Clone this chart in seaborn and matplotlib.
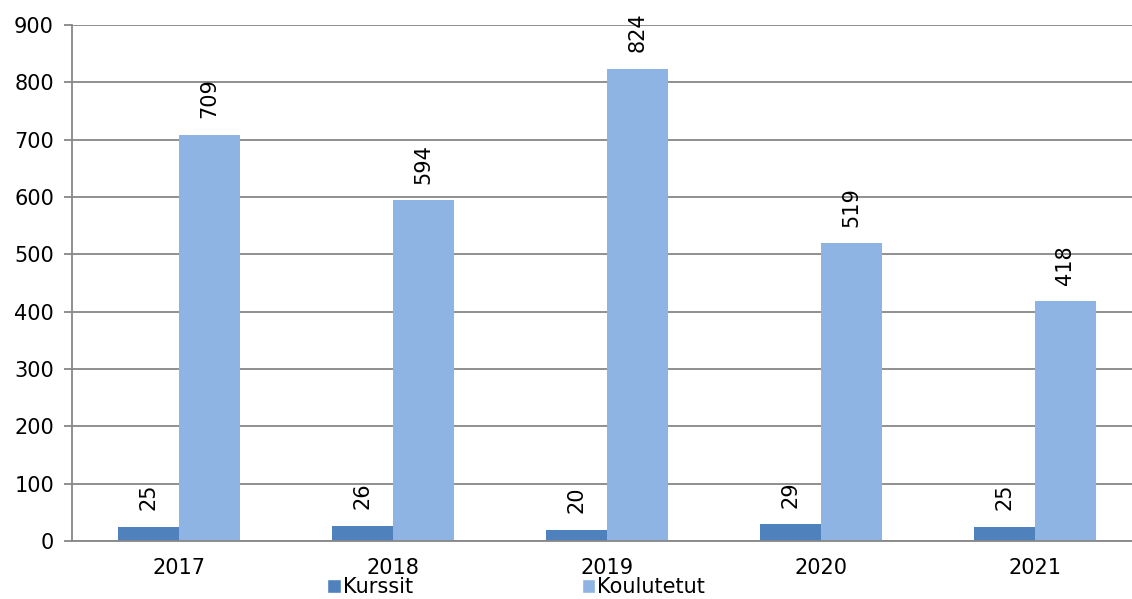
import numpy as np
import pandas as pd
import matplotlib
matplotlib.use("Agg")
import matplotlib.pyplot as plt
import seaborn as sns
from matplotlib.patches import Patch

years = ["2017", "2018", "2019", "2020", "2021"]
kurssit = [25, 26, 20, 29, 25]
koulutetut = [709, 594, 824, 519, 418]
series = ["Kurssit", "Koulutetut"]
colors = ["#4F81BD", "#8EB4E3"]

df = pd.DataFrame({
    "vuosi": years * 2,
    "arvo": kurssit + koulutetut,
    "sarja": [series[0]] * len(years) + [series[1]] * len(years),
})

sns.set_style("white")
plt.rcParams["font.family"] = ["DejaVu Sans"]
plt.rcParams["text.color"] = "black"
plt.rcParams["xtick.labelcolor"] = "black"
plt.rcParams["ytick.labelcolor"] = "black"
grey = "#878787"
fs = 15

fig = plt.figure(figsize=(11.32, 5.99), dpi=100)
ax = fig.add_axes([72 / 1132, 58 / 599, 1070 / 1132, 516 / 599])

sns.barplot(data=df, x="vuosi", y="arvo", hue="sarja", palette=colors,
            width=0.57, gap=0, saturation=1, linewidth=0, legend=False, ax=ax)

# arvot pystyyn palkkien yläpuolelle
for c in ax.containers:
    ax.bar_label(c, rotation=90, padding=12, fontsize=fs, color="black")

ax.set_ylim(0, 900)
ax.set_yticks(np.arange(0, 901, 100))
ax.set_xlim(-0.5, len(years) - 0.5)
ax.set_xlabel("")
ax.set_ylabel("")
ax.grid(axis="y", color=grey, linewidth=1.3)
ax.set_axisbelow(True)

for s in ["top", "right"]:
    ax.spines[s].set_visible(False)
for s in ["left", "bottom"]:
    ax.spines[s].set_color(grey)
    ax.spines[s].set_linewidth(1.3)

ax.set_xticks(np.arange(len(years)))
ax.set_xticklabels(years)
ax.set_xticks(np.arange(len(years) + 1) - 0.5, minor=True)
ax.tick_params(axis="x", which="major", length=0, labelsize=fs, pad=12)
ax.tick_params(axis="x", which="minor", length=6, width=1.3, color=grey, direction="out")
ax.tick_params(axis="y", length=6, width=1.3, color=grey, labelsize=fs, pad=7, left=True)

handles = [Patch(facecolor=colors[0]), Patch(facecolor=colors[1])]
fig.legend(handles, series, loc="center", bbox_to_anchor=(516 / 1132, 12 / 599),
           ncol=2, frameon=False, fontsize=fs, handlelength=0.65, handleheight=0.65,
           handletextpad=0.1, columnspacing=8.1, borderpad=0)

fig.savefig("out.png", dpi=100)
